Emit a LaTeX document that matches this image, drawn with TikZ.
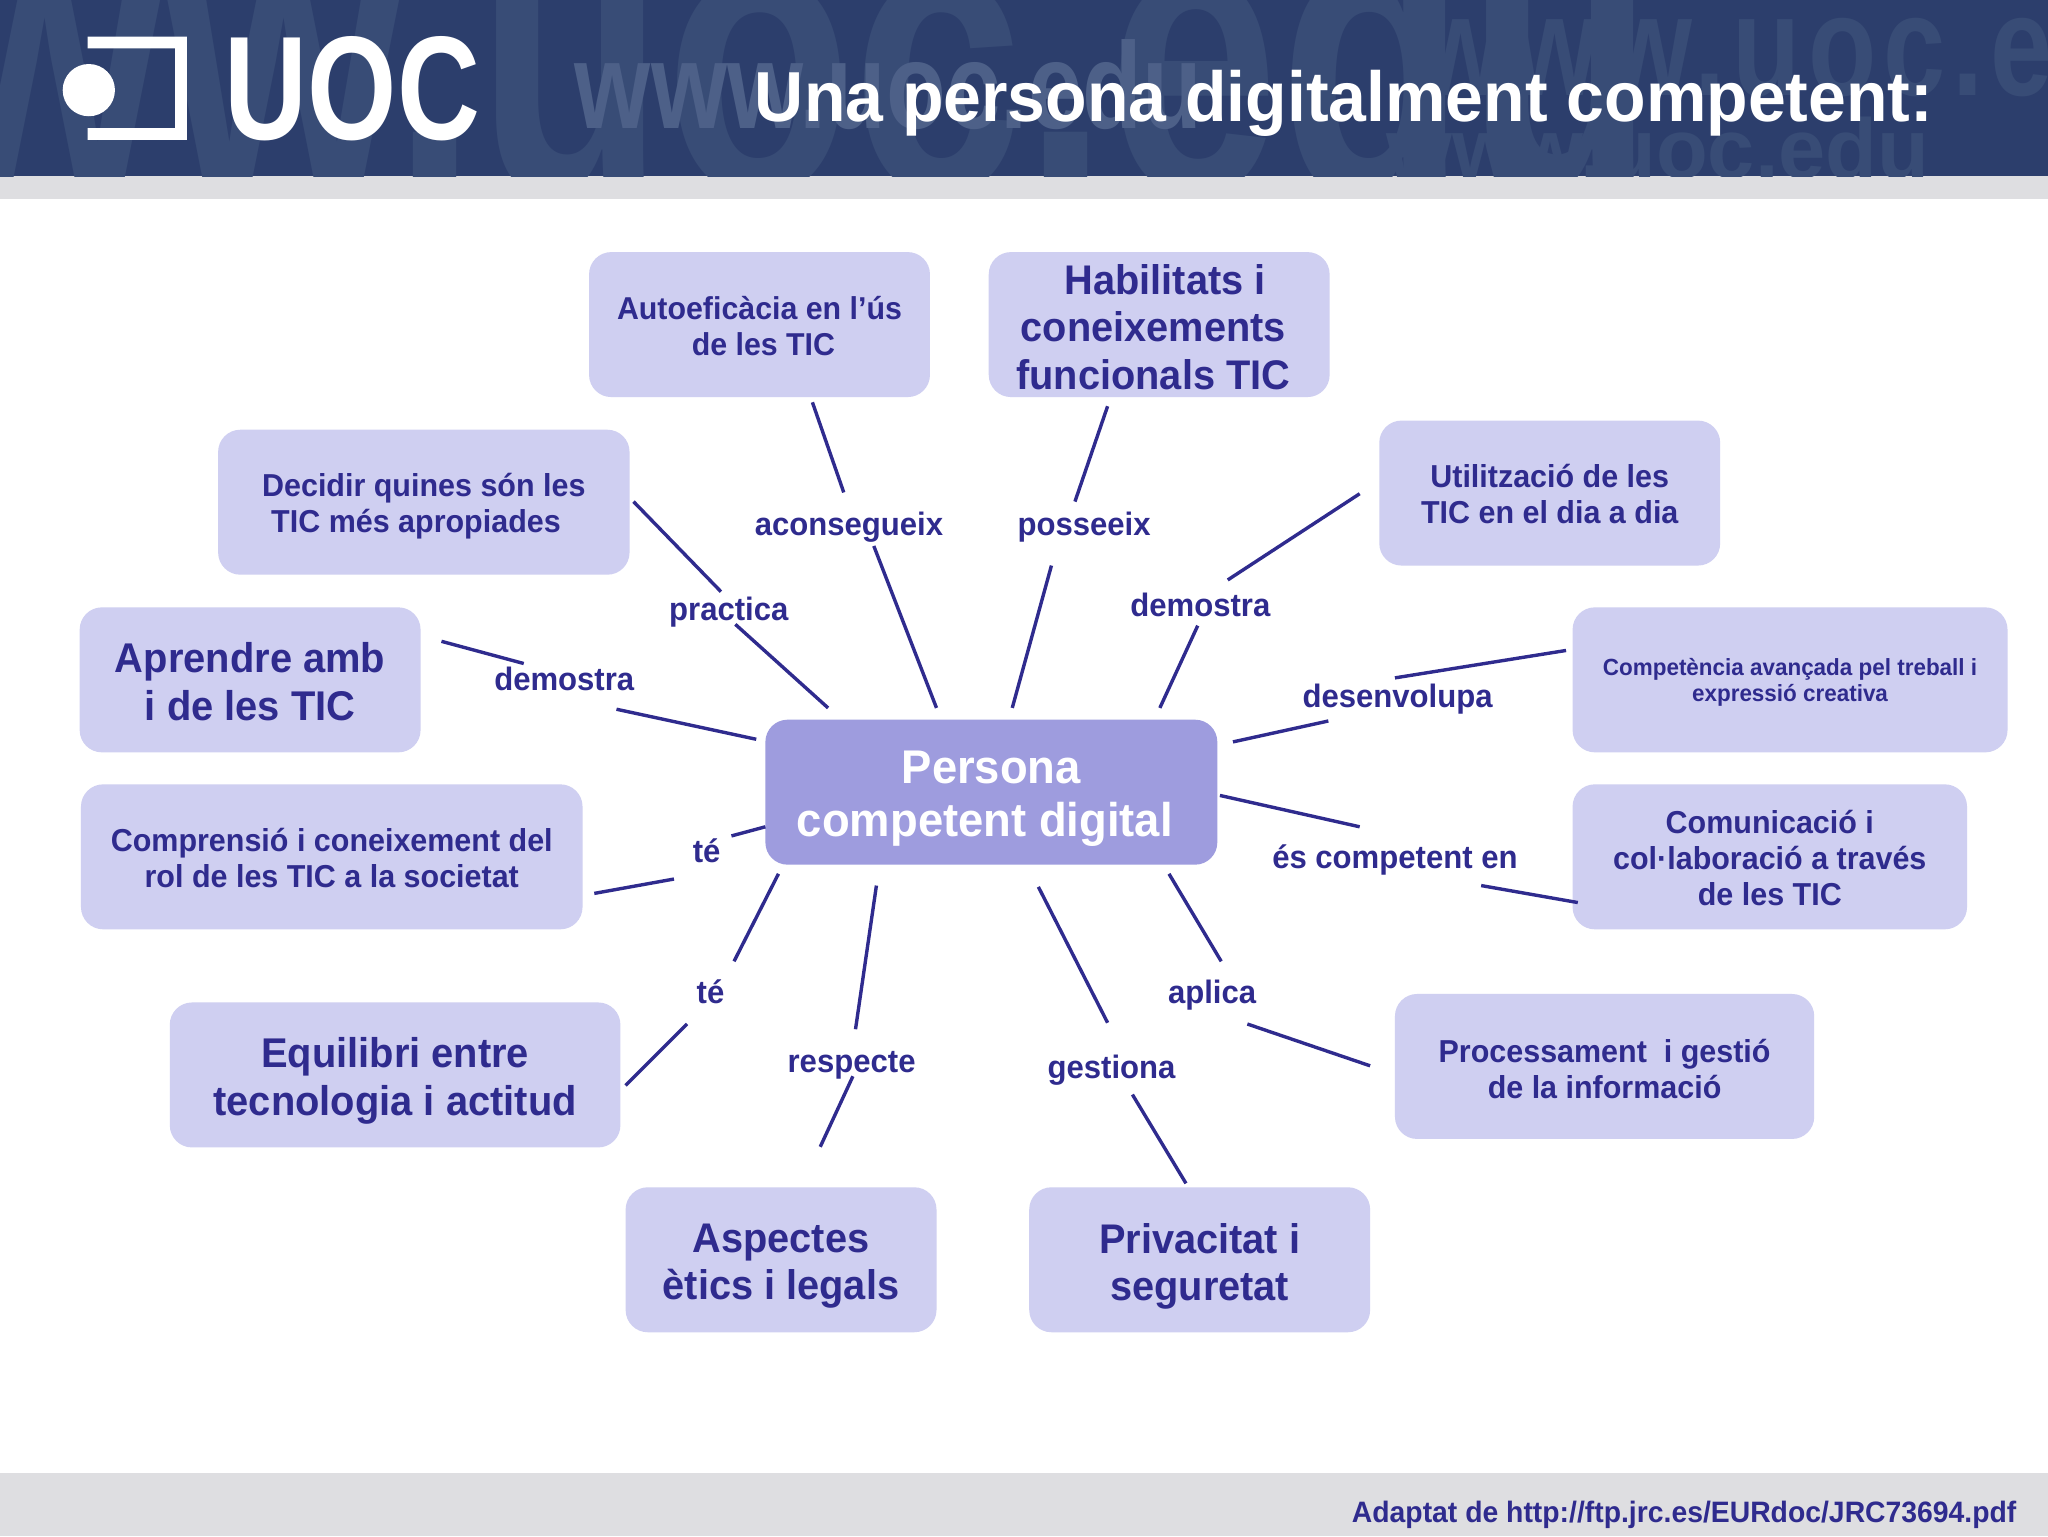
\documentclass[tikz,border=0pt]{standalone}
\usepackage{fontspec}
\setmainfont[FakeStretch=0.96]{Liberation Sans}
\definecolor{headBlue}{HTML}{2C3E6C}
\definecolor{bandGrey}{HTML}{DEDEE1}
\definecolor{inkBlue}{HTML}{2F2B8E}
\definecolor{boxBlue}{HTML}{CFCFF1}
\definecolor{hubBlue}{HTML}{9E9CDE}
\definecolor{markA}{HTML}{384C76}
\definecolor{markB}{HTML}{4D6088}
\newcommand{\sized}[1]{\fontsize{#1}{\dimexpr #1pt*114/100\relax}\selectfont\bfseries}
\begin{document}
\begin{tikzpicture}
[x=1pt,y=-1pt,
  boxDecorate/.style={shape=rectangle,rounded corners=17pt,fill=boxBlue,inner sep=0pt,minimum height=111pt},%
  wordDecorate/.style={align=center,text=inkBlue,inner sep=0pt},%
  linkDecorate/.style={shape=rectangle,text=inkBlue,inner sep=0pt,text height=18pt,text depth=2pt,font=\sized{24.8}},%
  lineDecorate/.style={-,line width=2.6pt,draw=inkBlue}]
\useasboundingbox (0,0) rectangle (1568,1176);
%% header and bands
\fill[white] (0,0) rectangle (1568,1176);
\fill[bandGrey] (0,135) rectangle (1568,152);
\fill[bandGrey] (0,1128) rectangle (1568,1176);
\begin{scope}
\clip (0,0) rectangle (1568,135);
\fill[headBlue] (0,0) rectangle (1568,135);
\foreach \markname/\x/\y/\fsize/\xs/\track/\shade in {
  huge/-240/147/310/.79/0/markA,
  mid/440/98/94/.83/0/markB,
  top/1085/73/110/.81/6/markA,
  low/1061/137/65/1.04/0/markA}
{
  \node (\markname) at (\x,\y) [anchor=base west,inner sep=0pt,text=\shade] {\scalebox{\xs}[1]{\sized{\fsize}\addfontfeature{LetterSpace=\track}www.uoc.edu}};
}
\end{scope}
%% logo
\fill[white] (68,69) circle (20);
\fill[white] (67,28) -- (143,28) -- (143,107) -- (67,107) -- (67,98) -- (134,98) -- (134,37) -- (67,37) -- cycle;
\node (uoc) at (172,107) [anchor=base west,inner sep=0pt,text=white] {\scalebox{.81}[1]{\sized{113}UOC}};
\node (title) at (1029,93) [anchor=base,inner sep=0pt,text=white] {\sized{54.2}Una persona digitalment competent:};
\node (source) at (1544,1166) [anchor=base east,inner sep=0pt,text=inkBlue] {\sized{22.6}Adaptat de http://ftp.jrc.es/EURdoc/JRC73694.pdf};
%% boxes
\node (hub) at (759,606.5) [boxDecorate,fill=hubBlue,minimum width=346pt] {};
\node (hubtext) at ([yshift=-5pt]hub.center) [wordDecorate,text=white,font=\sized{36.2}] {Persona\\competent digital\hspace*{10pt}};
\foreach \nodename/\x/\y/\wide/\fsize/\dx/\drop/\word in {
  autoef/581.5/248.5/261/24.2/0/1/{Autoeficàcia en l’ús\\\hspace*{6pt}de les TIC},
  habil/887.5/248.5/261/31.7/-4.5/2/{\hspace*{18pt}Habilitats i\\coneixements\\funcionals TIC},
  utilit/1186.5/377.5/261/24.3/0/1/{Utilització de les\\TIC en el dia a dia},
  compet/1370.5/520.5/333/17.9/0/2/{Competència avançada pel treball i\\expressió creativa},
  comunic/1355/656/302/24.3/0/1/{Comunicació i\\col·laboració a través\\de les TIC},
  process/1228.5/816.5/321/24.3/0/2/{Processament~ i gestió\\de la informació},
  privac/918.5/964.5/261/31.7/0/5/{Privacitat i\\seguretat},
  aspect/598/964.5/238/31.7/0/5/{Aspectes\\ètics i legals},
  equil/302.5/823/345/31.8/0/4.5/{Equilibri entre\\tecnologia i actitud},
  compren/254/656/384/24.3/0/1/{Comprensió i coneixement del\\rol de les TIC a la societat},
  aprend/191.5/520.5/261/31.8/0/1.5/{Aprendre amb\\i de les TIC},
  decid/324.5/384.5/315/24.3/0/3/{Decidir quines són les\\TIC més apropiades\hspace*{12pt}}}
{
  \node (\nodename) at (\x,\y) [boxDecorate,minimum width=\wide pt] {};
  \node (\nodename text) at ([shift={(\dx,\drop)}]\nodename.center) [wordDecorate,font=\sized{\fsize}] {\word};
}
%% labels
\foreach \nodename/\x/\y/\word in {
  aconsegueix/650/402/aconsegueix, posseeix/830/402/posseeix, practica/558/467/practica,
  demostraA/919/464/demostra, demostraB/432/521/demostra, desenvolupa/1070/534/desenvolupa,
  competent/1068/657/és competent en, teA/541/652/té, teB/544/760/té,
  respecte/652/813/respecte, gestiona/851/818/gestiona, aplica/928/760/aplica}
{
  \node (\nodename) at (\x,\y) [linkDecorate] {\word};
}
%% free ends of the lines
\foreach \nodename/\x/\y in {
  a1/622/308, a2/717/542, b1/848/311, b2/775/542, c1/485/384, c2/634/542,
  d1/1041/378, d2/888/542, e1/338/491, e2/579/566, f1/1199/498, f2/944/568,
  g1/934/609, g2/1208/691, h1/586/633, h2/455/684, i1/596/669, i2/479/831,
  j1/671/678, j2/628/878, k1/795/679, k2/908/906, l1/895/669, l2/1049/816}
{
  \coordinate (\nodename) at (\x,\y);
}
%% lines
\foreach \startnode/\endnode/\dx/\dy in {
  a1/aconsegueix/-4/-25, a2/aconsegueix/19/16, b1/posseeix/-7/-18, b2/posseeix/-25/31,
  c1/practica/-6/-14, c2/practica/5/11, d1/demostraA/21/-20, d2/demostraA/-2/15,
  e1/demostraB/-31/-13, e2/demostraB/40/22, f1/desenvolupa/-2/-15, f2/desenvolupa/-53/18,
  g1/competent/-27/-24, g2/competent/66/21, h1/teA/19/-12, h2/teA/-25/21,
  i1/teB/18/-24, i2/teB/-18/24, j1/respecte/3/-25, j2/respecte/1/11,
  k1/gestiona/-3/-35, k2/gestiona/16/20, l1/aplica/7/-24, l2/aplica/27/24}
{
  \draw[lineDecorate] (\startnode) -- ([shift={(\dx,\dy)}]\endnode.center);
}
\end{tikzpicture}
\end{document}
